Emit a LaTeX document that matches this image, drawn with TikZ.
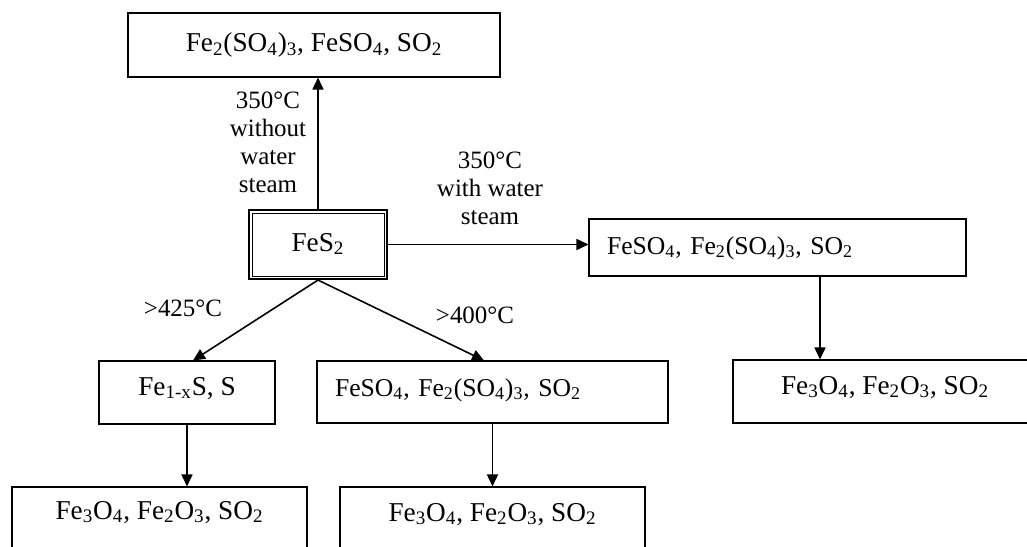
\documentclass[tikz,border=0pt]{standalone}
\usepackage{fontspec}
\setmainfont{Liberation Serif}
\usetikzlibrary{arrows.meta}
\newcommand{\sbs}[1]{\textsubscript{#1}}

\begin{document}
\begin{tikzpicture}[
    box/.style={draw, line width=0.6pt, inner sep=0pt, text height=0.4cm, text depth=0.14cm, font=\fontsize{15.5}{18}\selectfont},
    lowbox/.style={box, text depth=0.3cm},
    leftbox/.style={box, align=left, inner xsep=0.36cm, text width=#1, font=\fontsize{14.6}{17}\selectfont},
    lbl/.style={align=center, font=\fontsize{14.2}{16}\selectfont},
    arr/.style={line width=0.9pt, -{Triangle[length=0.24cm,width=0.22cm]}}
  ]
  \clip (0,0) rectangle (20.54,-10.94);

  \node[box, minimum width=7.44cm, minimum height=1.28cm] (top) at (6.28,-0.9) {Fe\sbs{2}(SO\sbs{4})\sbs{3}, FeSO\sbs{4}, SO\sbs{2}};
  \node[box, line width=1.2pt, minimum width=2.76cm, minimum height=1.38cm] (fes) at (6.36,-4.89) {FeS\sbs{2}};
  \draw[line width=0.5pt] ([shift={(0.08,0.08)}]fes.south west) rectangle ([shift={(-0.08,-0.08)}]fes.north east);
  \node[leftbox=6.82cm, minimum height=1.14cm] (sulfa) at (15.55,-4.95) {FeSO\sbs{4}, Fe\sbs{2}(SO\sbs{4})\sbs{3}, SO\sbs{2}};

  \node[lowbox, minimum width=3.52cm, minimum height=1.26cm] (pyrr) at (3.74,-7.85) {Fe\sbs{1-x}S, S};
  \node[leftbox=6.30cm, minimum height=1.24cm, text depth=0.24cm] (sulfb) at (9.85,-7.84) {FeSO\sbs{4}, Fe\sbs{2}(SO\sbs{4})\sbs{3}, SO\sbs{2}};
  \node[lowbox, minimum width=6.08cm, minimum height=1.26cm] (oxc) at (17.7,-7.83) {Fe\sbs{3}O\sbs{4}, Fe\sbs{2}O\sbs{3}, SO\sbs{2}};
  \node[lowbox, text depth=0.38cm, minimum width=5.9cm, minimum height=1.26cm] (oxa) at (3.19,-10.37) {Fe\sbs{3}O\sbs{4}, Fe\sbs{2}O\sbs{3}, SO\sbs{2}};
  \node[lowbox, minimum width=6.1cm, minimum height=1.26cm] (oxb) at (9.85,-10.37) {Fe\sbs{3}O\sbs{4}, Fe\sbs{2}O\sbs{3}, SO\sbs{2}};

  \draw[arr] (fes.north) -- (fes.north |- top.south);
  \draw[arr] (fes.east) -- (fes.east -| sulfa.west);
  \draw[arr] (fes.south) -- ([xshift=0.12cm]pyrr.north);
  \draw[arr] (fes.south) -- ([xshift=-0.17cm]sulfb.north);
  \draw[arr] (pyrr.south) -- (pyrr.south |- oxa.north);
  \draw[arr] (sulfb.south) -- (oxb.north);
  \draw[arr] ([xshift=0.85cm]sulfa.south) -- ([xshift=0.85cm]sulfa.south |- oxc.north);

  \node[lbl] (dry) at (5.36,-2.85) {350°C\\without\\water\\steam};
  \node[lbl] (wet) at (9.8,-3.76) {350°C\\with water\\steam};
  \node[lbl] (hot) at (3.66,-6.16) {>425°C};
  \node[lbl] (warm) at (9.5,-6.3) {>400°C};
\end{tikzpicture}
\end{document}
